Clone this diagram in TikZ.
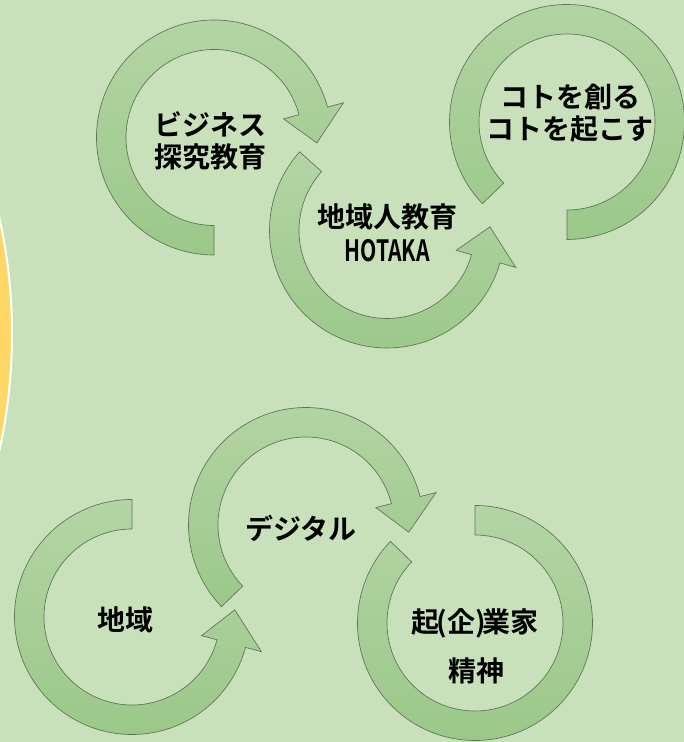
\documentclass[tikz,border=0pt]{standalone}
\usepackage{fontspec}
\usepackage{graphicx}
\usetikzlibrary{calc}
\newfontfamily\jpfont{Noto Sans CJK JP Bold}
\definecolor{bgGreen}{HTML}{C9E1BA}
\definecolor{arrowTop}{HTML}{B4D4A5}
\definecolor{arrowBottom}{HTML}{9BC889}
\definecolor{arrowLine}{HTML}{5E7356}
\definecolor{sunYellow}{HTML}{FFD766}
\tikzset{
  cyclefill/.style={top color=arrowTop, bottom color=arrowBottom, draw=arrowLine, line width=0.5pt},
  cycletext/.style={font=\jpfont\fontsize{21}{24}\selectfont, align=center, text=black}
}
\newcommand{\cyclearrow}[4]{
  \path[cyclefill] ($(#1)+(#2:117.5)$) arc[start angle=#2, end angle=#3, radius=117.5]
    -- ($(#1)+(#3:134)$) -- ($(#1)+(#4:103)$) -- ($(#1)+(#3:72)$) -- ($(#1)+(#3:88)$)
    arc[start angle=#3, end angle=#2, radius=88] -- cycle;
}
\newcommand{\cyclearc}[3]{
  \path[cyclefill] ($(#1)+(#2:117.5)$) arc[start angle=#2, end angle=#3, radius=117.5]
    -- ($(#1)+(#3:88)$) arc[start angle=#3, end angle=#2, radius=88] -- cycle;
}

\begin{document}
\begin{tikzpicture}[x=0.75pt, y=0.75pt]
            \useasboundingbox (0,0) rectangle (684,742);
            \clip (0,0) rectangle (684,742);
            \fill[bgGreen] (0,0) rectangle (684,742);
            \filldraw[fill=sunYellow, draw=white, line width=1.5pt] (-526,408) circle[radius=538];

            \coordinate (biz) at (214,604.5);
            \coordinate (hotaka) at (387,511.5);
            \coordinate (koto) at (567,620);
            \coordinate (chiiki) at (132,125);
            \coordinate (digital) at (306,217);
            \coordinate (kigyo) at (475,119);

            \cyclearrow{biz}{270}{15}{-3}
            \cyclearrow{hotaka}{138}{344}{362}
            \cyclearc{koto}{224}{-90}
            \cyclearrow{chiiki}{90}{345}{364}
            \cyclearrow{digital}{224}{14}{-4}
            \cyclearc{kigyo}{90}{-224}

            \node[cycletext] (bizText) at (210,601) {ビジネス\\探究教育};
            \node[cycletext] (hotakaText) at (387,525) {地域人教育};
            \node[cycletext] (hotakaName) at (387,491) {\scalebox{0.72}[1]{\fontsize{22}{24}\selectfont HOTAKA}};
            \node[cycletext] (kotoText) at (570,628.5) {コトを創る\\コトを起こす};
            \node[cycletext] (chiikiText) at (125,122) {地域};
            \node[cycletext] (digitalText) at (301,214) {デジタル};
            \node[cycletext] (kigyoText) at (475,119) {起\kern-2pt(企)\kern-2pt業家};
            \node[cycletext] (kigyoSpirit) at (476,71) {精神};
        \end{tikzpicture}
\end{document}
